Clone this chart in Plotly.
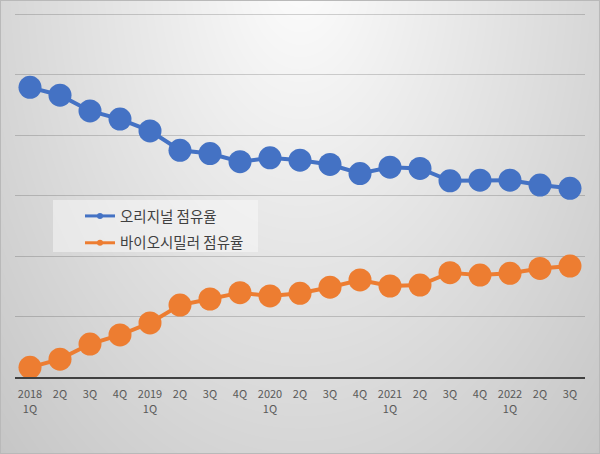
import math
import zlib
import struct
import base64
import plotly.graph_objects as go

# ---------------- data ----------------
tick_labels = ["2018<br>1Q", "2Q", "3Q", "4Q",
               "2019<br>1Q", "2Q", "3Q", "4Q",
               "2020<br>1Q", "2Q", "3Q", "4Q",
               "2021<br>1Q", "2Q", "3Q", "4Q",
               "2022<br>1Q", "2Q", "3Q"]
original_share = [95.8, 93.2, 88.0, 85.3, 81.4, 75.0, 73.9, 71.2, 72.5, 71.7,
                  70.3, 67.3, 69.4, 69.0, 64.9, 65.1, 65.1, 63.5, 62.4]
biosimilar_share = [3.2, 5.9, 10.9, 13.9, 17.9, 23.8, 25.8, 27.9, 26.8, 27.7,
                    29.7, 32.1, 30.1, 30.4, 34.5, 33.7, 34.3, 35.9, 36.7]
series_names = ["오리지널 점유율", "바이오시밀러 점유율"]
x_idx = list(range(len(tick_labels)))

BLUE = "#4472C4"
ORANGE = "#ED7D31"
W, H = 600, 454
ML, MR, MT, MB = 15, 15, 13, 77
Y_MAX = 120.4

# ---------------- gradient background (PNG data URI) ----------------
def make_bg(w, h):
    rows = []
    for y in range(h):
        row = bytearray([0])
        dy = (y + 30) / 520.0
        for x in range(w):
            dx = (x - 300) / 330.0
            d = math.sqrt(dx * dx + dy * dy)
            v = 253 - 42 * d
            if x == 0 or y == 0 or x == w - 1 or y == h - 1:
                v = 185
            row.append(max(0, min(255, int(v))))
        rows.append(bytes(row))
    raw = b"".join(rows)

    def chunk(t, data):
        c = struct.pack(">I", len(data)) + t + data
        return c + struct.pack(">I", zlib.crc32(t + data) & 0xffffffff)

    png = b"\x89PNG\r\n\x1a\n"
    png += chunk(b"IHDR", struct.pack(">IIBBBBB", w, h, 8, 0, 0, 0, 0))
    png += chunk(b"IDAT", zlib.compress(raw, 9))
    png += chunk(b"IEND", b"")
    return "data:image/png;base64," + base64.b64encode(png).decode()

bg_src = make_bg(W, H)
pw = W - ML - MR
ph = H - MT - MB

def px_x(px):
    return (px - ML) / pw

def px_y(py):
    return (H - MB - py) / ph

fig = go.Figure()
for vals, color, name in [(original_share, BLUE, series_names[0]),
                          (biosimilar_share, ORANGE, series_names[1])]:
    fig.add_trace(go.Scatter(
        x=x_idx, y=vals, mode="lines+markers", name=name, showlegend=False,
        line=dict(color=color, width=4),
        marker=dict(color=color, size=23),
        cliponaxis=False,
    ))
# legend-only traces (small symbols like the reference)
for i, (color, name) in enumerate([(BLUE, series_names[0]), (ORANGE, series_names[1])]):
    fig.add_trace(go.Scatter(
        x=[None], y=[None], mode="lines+markers", name=name,
        legendgroup="g%d" % i,
        line=dict(color=color, width=3),
        marker=dict(color=color, size=6),
    ))

fig.update_layout(
    width=W, height=H,
    margin=dict(l=ML, r=MR, t=MT, b=MB),
    paper_bgcolor="#e4e4e4",
    plot_bgcolor="rgba(0,0,0,0)",
    font=dict(family="Noto Sans CJK KR, Malgun Gothic, sans-serif", color="#404040"),
    images=[dict(
        source=bg_src, xref="paper", yref="paper",
        x=-ML / pw, y=1 + MT / ph, sizex=W / pw, sizey=H / ph,
        xanchor="left", yanchor="top", sizing="stretch", layer="below",
    )],
    shapes=[dict(
        type="rect", xref="paper", yref="paper", layer="below",
        x0=px_x(53), x1=px_x(258), y0=px_y(252), y1=px_y(200),
        fillcolor="rgba(250,250,250,0.5)", line=dict(width=0),
    )],
    xaxis=dict(
        range=[-0.5, len(tick_labels) - 0.5],
        tickmode="array", tickvals=x_idx, ticktext=tick_labels,
        tickfont=dict(size=11, color="#595959"),
        showgrid=False, zeroline=False,
        showline=True, linecolor="#404040", linewidth=2,
        ticks="", ticklabelstandoff=6,
    ),
    yaxis=dict(
        range=[0, Y_MAX], tick0=0, dtick=20, showticklabels=False,
        showgrid=True, gridcolor="rgba(0,0,0,0.17)", gridwidth=1,
        zeroline=False, showline=False, ticks="",
    ),
    legend=dict(
        x=px_x(80), y=px_y(200),
        xanchor="left", yanchor="top",
        bgcolor="rgba(0,0,0,0)",
        font=dict(size=14.5, color="#404040"),
        tracegroupgap=5, itemwidth=30,
    ),
    showlegend=True,
)

fig.write_html("out.html")
